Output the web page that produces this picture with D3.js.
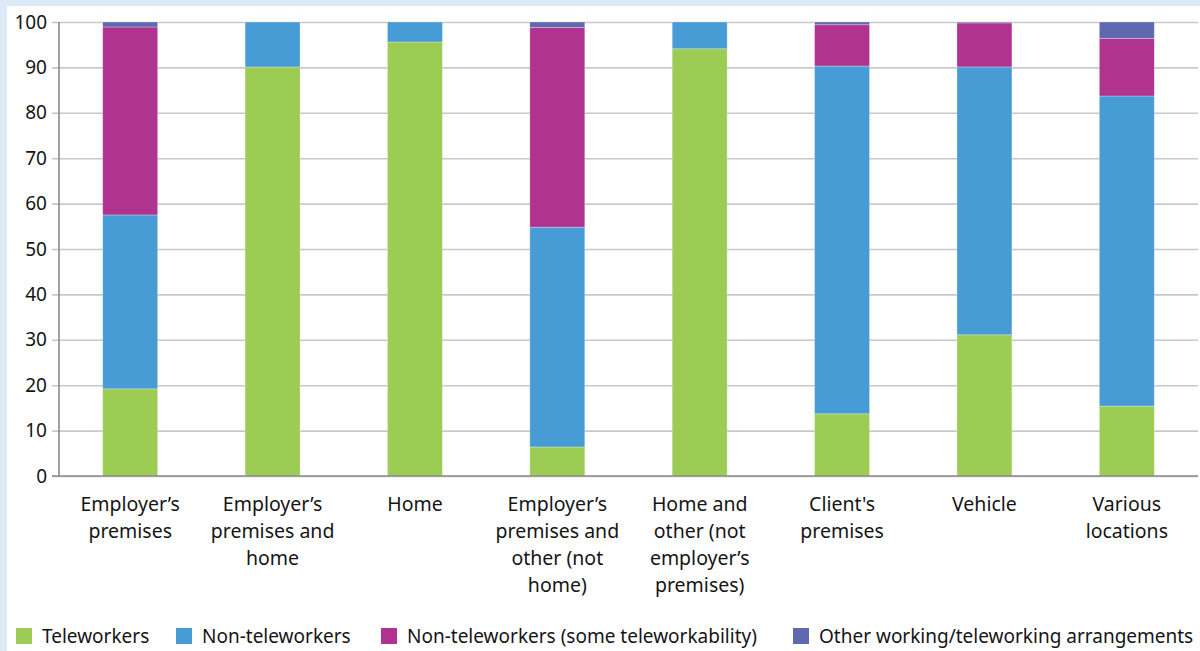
<!DOCTYPE html>
<html><head><meta charset="utf-8">
<script src="https://cdn.jsdelivr.net/npm/d3@7"></script>
<style>body{margin:0;background:#fff}svg{display:block}text{font-family:"Noto Sans",sans-serif;fill:#151515}</style>
</head><body><svg id="c" width="1200" height="651"></svg>
<script>
const categories = [
  "Employer’s\npremises",
  "Employer’s\npremises and\nhome",
  "Home",
  "Employer’s\npremises and\nother (not\nhome)",
  "Home and\nother (not\nemployer’s\npremises)",
  "Client's\npremises",
  "Vehicle",
  "Various\nlocations"
];
const seriesNames = ["Teleworkers","Non-teleworkers","Non-teleworkers (some teleworkability)","Other working/teleworking arrangements"];
const teleworkers      = [19.2, 90.1, 95.6, 6.4, 94.1, 13.7, 31.1, 15.4];
const nonTeleworkers   = [38.3,  9.9,  4.4, 48.4, 5.9, 76.6, 59.0, 68.3];
const someTelework     = [41.4,  0,    0,   44.0, 0,    9.1,  9.7, 12.7];
const otherArrangement = [ 1.1,  0,    0,    1.2, 0,    0.6,  0.2,  3.6];
const yTicks = [0,10,20,30,40,50,60,70,80,90,100];
const colors = ["#9ccc54","#479cd6","#b0348f","#6068b0"];

const svg = d3.select("#c");
svg.append("rect").attr("width",1200).attr("height",651).attr("fill","#dce9f6");
svg.append("rect").attr("x",7).attr("y",6).attr("width",1193).attr("height",645).attr("fill","#fff");

const L=59, R=1198, T=22, B=476;
const x = d3.scaleBand().domain(categories).range([L,R]).paddingInner(0.614).paddingOuter(0.307);
const y = d3.scaleLinear().domain([0,100]).range([B,T]);

// grid
const yAxis = d3.axisLeft(y).tickValues(yTicks).tickSize(L-52+ (R-L)).tickPadding(5);
const gy = svg.append("g").attr("transform",`translate(${R},0)`).call(yAxis);
gy.select(".domain").remove();
gy.selectAll(".tick line").attr("stroke","#c8c8c8").attr("stroke-width",1.6);
gy.selectAll(".tick text").attr("font-size",19).attr("font-family","Noto Sans").attr("fill","#151515");

// stack
const rows = categories.map((c,i)=>({cat:c, s0:teleworkers[i], s1:nonTeleworkers[i], s2:someTelework[i], s3:otherArrangement[i]}));
const stack = d3.stack().keys(["s0","s1","s2","s3"])(rows);
svg.append("g").selectAll("g").data(stack).join("g").attr("fill",(d,i)=>colors[i])
  .selectAll("rect").data(d=>d).join("rect")
  .attr("x",d=>x(d.data.cat)).attr("width",x.bandwidth())
  .attr("y",d=>y(d[1])).attr("height",d=>Math.max(0,y(d[0])-y(d[1])))
  .attr("stroke","#ffffff").attr("stroke-opacity",0.35).attr("stroke-width",0.8);

// axes lines
svg.append("line").attr("x1",L).attr("x2",L).attr("y1",T).attr("y2",B).attr("stroke","#8a8a8a").attr("stroke-width",1.6);
svg.append("line").attr("x1",52).attr("x2",R).attr("y1",B).attr("y2",B).attr("stroke","#8a8a8a").attr("stroke-width",1.6);

// x labels
const xl = svg.append("g").selectAll("text").data(categories).join("text")
  .attr("text-anchor","middle").attr("font-size",19.5)
  .attr("transform",d=>`translate(${x(d)+x.bandwidth()/2},511)`);
xl.each(function(d){
  const t=d3.select(this);
  d.split("\n").forEach((ln,i)=>t.append("tspan").attr("x",0).attr("y",i*27).text(ln));
});

// legend
const legX=[16,176,381,793];
const lg = svg.append("g").selectAll("g").data(seriesNames).join("g")
  .attr("transform",(d,i)=>`translate(${legX[i]},628)`);
lg.append("rect").attr("width",16).attr("height",16).attr("fill",(d,i)=>colors[i]);
lg.append("text").attr("x",26).attr("y",15).attr("font-size",19).text(d=>d);
</script></body></html>
